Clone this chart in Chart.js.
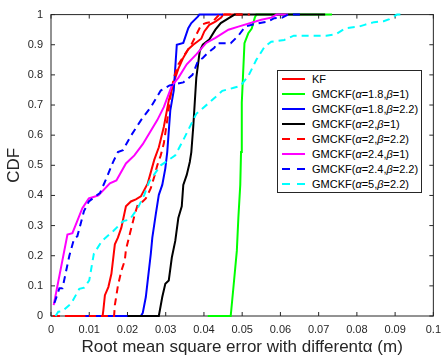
<!DOCTYPE html>
<html><head><meta charset="utf-8">
<script src="https://cdn.jsdelivr.net/npm/chart.js@4"></script>
<style>
html,body{margin:0;padding:0;background:#fff;}
#wrap{position:relative;width:448px;height:362px;}
#legend{position:absolute;left:277px;top:70px;width:143px;height:120px;border:1px solid #262626;background:#fff;font:11px "Liberation Sans",Arial,sans-serif;color:#000;padding-top:1px;}
.row{height:14.9px;display:flex;align-items:center;white-space:nowrap;}
.smp{width:23px;height:2px;margin-left:4px;margin-right:7px;flex:none;}
</style></head><body>
<div id="wrap"><canvas id="c" width="448" height="362"></canvas><div id="legend"></div></div>
<script>
// ---------- data ----------
const xTickLabels = ['0','0.01','0.02','0.03','0.04','0.05','0.06','0.07','0.08','0.09','0.1'];
const yTickLabels = ['0','0.1','0.2','0.3','0.4','0.5','0.6','0.7','0.8','0.9','1'];
const seriesLabels = ['KF','GMCKF(α=1.8,β=1)','GMCKF(α=1.8,β=2.2)','GMCKF(α=2,β=1)','GMCKF(α=2,β=2.2)','GMCKF(α=2.4,β=1)','GMCKF(α=2.4,β=2.2)','GMCKF(α=5,β=2.2)'];

const kfX = [0.005,0.0135,0.0137,0.0141,0.015,0.0158,0.0167,0.0175,0.0184,0.0196,0.0209,0.0222,0.0235,0.0253,0.027,0.0282,0.0295,0.0308,0.0325,0.0333,0.0346,0.0359,0.0372,0.0393,0.0401,0.0414,0.043,0.0445,0.045,0.05];
const kfY = [0,0,0.02,0.069,0.096,0.14,0.238,0.26,0.293,0.364,0.38,0.387,0.397,0.44,0.518,0.56,0.627,0.715,0.79,0.82,0.857,0.885,0.9,0.92,0.944,0.966,0.977,0.99,1,1];

const g18b1X = [0.041,0.047,0.0478,0.0486,0.049,0.0495,0.0497,0.0499,0.0506,0.0516,0.0525,0.0533,0.0537,0.0735];
const g18b1Y = [0,0,0.107,0.216,0.325,0.435,0.544,0.708,0.905,0.938,0.954,0.99,1,1];

const g18b22X = [0.009,0.0235,0.024,0.0248,0.0253,0.0261,0.0265,0.0274,0.0282,0.0291,0.0299,0.0304,0.0312,0.0321,0.0329,0.0346,0.0359,0.0367,0.0384,0.0388,0.045];
const g18b22Y = [0,0,0.01,0.063,0.118,0.206,0.26,0.337,0.402,0.435,0.49,0.544,0.682,0.748,0.9,0.906,0.955,0.972,0.993,1,1];

const g2b1X = [0.02,0.0282,0.0291,0.0299,0.0308,0.0316,0.0325,0.0333,0.0342,0.0346,0.0355,0.0363,0.0367,0.0372,0.038,0.0389,0.0397,0.0414,0.043,0.0444,0.0465,0.048,0.0717];
const g2b1Y = [0,0,0.063,0.107,0.118,0.194,0.249,0.325,0.364,0.435,0.468,0.511,0.544,0.627,0.79,0.879,0.9,0.917,0.95,0.972,0.988,1,1];

const g2b22X = [0.0005,0.0165,0.0167,0.0175,0.0184,0.0193,0.0196,0.0206,0.0219,0.0227,0.024,0.0248,0.0261,0.027,0.0278,0.0287,0.0295,0.0304,0.0312,0.0321,0.0333,0.035,0.0367,0.038,0.0393,0.0406,0.0423,0.044,0.052];
const g2b22Y = [0,0,0.036,0.1,0.15,0.184,0.22,0.271,0.337,0.37,0.38,0.39,0.424,0.462,0.5,0.533,0.572,0.65,0.725,0.79,0.835,0.868,0.9,0.933,0.966,0.972,0.977,1,1];

const g24b1X = [0.0007,0.0043,0.0056,0.0082,0.0099,0.0124,0.0154,0.0171,0.0196,0.0218,0.024,0.0278,0.0295,0.0316,0.0333,0.0355,0.038,0.0406,0.043,0.0464,0.049,0.055,0.0576,0.059,0.062];
const g24b1Y = [0.036,0.27,0.275,0.358,0.39,0.4,0.44,0.45,0.506,0.533,0.57,0.65,0.693,0.764,0.79,0.835,0.868,0.906,0.923,0.95,0.96,0.983,0.99,1,1];

const g24b22X = [0.0009,0.0022,0.003,0.0048,0.006,0.0069,0.0086,0.0099,0.0116,0.0128,0.0145,0.0162,0.0175,0.0188,0.021,0.0235,0.0261,0.0287,0.031,0.0346,0.037,0.0384,0.0397,0.041,0.0427,0.0435,0.047,0.049,0.0508,0.0536,0.0567,0.0584,0.0605,0.062,0.066];
const g24b22Y = [0.043,0.092,0.092,0.2,0.255,0.265,0.347,0.38,0.397,0.408,0.457,0.51,0.544,0.55,0.6,0.649,0.693,0.748,0.765,0.775,0.8,0.845,0.856,0.873,0.89,0.905,0.905,0.93,0.96,0.97,0.977,0.988,0.99,1,1];

const g5b22X = [0.0012,0.0019,0.003,0.0053,0.0074,0.0087,0.01,0.0112,0.0133,0.0163,0.0189,0.0206,0.0227,0.0244,0.0257,0.0287,0.0325,0.0346,0.038,0.0414,0.0448,0.0478,0.0495,0.0516,0.0537,0.0559,0.0576,0.061,0.0635,0.072,0.0745,0.077,0.0805,0.082,0.0845,0.087,0.0885,0.0905,0.092];
const g5b22Y = [0,0.014,0.016,0.042,0.09,0.094,0.118,0.206,0.249,0.282,0.315,0.32,0.358,0.402,0.446,0.5,0.533,0.584,0.671,0.708,0.747,0.757,0.763,0.796,0.85,0.894,0.91,0.916,0.93,0.93,0.935,0.955,0.96,0.966,0.975,0.978,0.985,1,1];

const seriesX = [kfX,g18b1X,g18b22X,g2b1X,g2b22X,g24b1X,g24b22X,g5b22X];
const seriesY = [kfY,g18b1Y,g18b22Y,g2b1Y,g2b22Y,g24b1Y,g24b22Y,g5b22Y];

// ---------- styles ----------
const colors = ['#ff0000','#00ff00','#0000ff','#000000','#ff0000','#ff00ff','#0000ff','#00ffff'];
const dashed = [false,false,false,false,true,false,true,true];
const FONT = '"Liberation Sans", Arial, sans-serif';

const datasets = seriesLabels.map((lab,i)=>({
  label: lab,
  data: seriesX[i].map((x,j)=>({x:x,y:seriesY[i][j]})),
  borderColor: colors[i],
  backgroundColor: colors[i],
  borderWidth: 2,
  borderDash: dashed[i] ? [7,5] : [],
  pointRadius: 0,
  fill: false,
  tension: 0,
  clip: 4,
  order: seriesLabels.length - i
}));

const frame = {
  id:'frame',
  beforeDatasetsDraw(chart){
    const {ctx, chartArea:a, scales:{x,y}} = chart;
    ctx.save();
    ctx.strokeStyle='#262626'; ctx.lineWidth=1;
    ctx.strokeRect(a.left, a.top, a.right-a.left, a.bottom-a.top);
    const L=4;
    ctx.beginPath();
    x.ticks.forEach(t=>{const p=x.getPixelForValue(t.value);
      ctx.moveTo(p,a.bottom); ctx.lineTo(p,a.bottom-L);
      ctx.moveTo(p,a.top); ctx.lineTo(p,a.top+L);});
    y.ticks.forEach(t=>{const p=y.getPixelForValue(t.value);
      ctx.moveTo(a.left,p); ctx.lineTo(a.left+L,p);
      ctx.moveTo(a.right,p); ctx.lineTo(a.right-L,p);});
    ctx.stroke();
    ctx.restore();
  }
};

new Chart(document.getElementById('c'), {
  type:'line',
  data:{datasets},
  options:{
    responsive:false, animation:false,
    layout:{padding:{left:0,right:5,top:11,bottom:0}},
    plugins:{legend:{display:false}, tooltip:{enabled:false}},
    scales:{
      x:{type:'linear', min:0, max:0.1,
        afterFit:s=>{s.height=46;},
        grid:{display:false, drawTicks:false}, border:{display:false},
        ticks:{stepSize:0.01, padding:7, color:'#262626', font:{family:FONT,size:11},
          maxRotation:0, autoSkip:false,
          callback:(v,i)=>xTickLabels[i]},
        title:{display:true, text:'Root mean square error with differentα (m)', color:'#262626',
          font:{family:FONT,size:17}, padding:{top:0,bottom:4}}
      },
      y:{type:'linear', min:0, max:1,
        afterFit:s=>{s.width=51;},
        grid:{display:false, drawTicks:false}, border:{display:false},
        ticks:{stepSize:0.1, padding:8, color:'#262626', font:{family:FONT,size:11},
          autoSkip:false, callback:(v,i)=>yTickLabels[i]},
        title:{display:true, text:'CDF', color:'#262626',
          font:{family:FONT,size:17}, padding:{top:4,bottom:0}}
      }
    }
  },
  plugins:[frame]
});

// HTML legend built from the series
const leg = document.getElementById('legend');
seriesLabels.forEach((lab,i)=>{
  const row = document.createElement('div'); row.className='row';
  const s = document.createElement('span'); s.className='smp';
  s.style.background = dashed[i]
    ? `linear-gradient(to right, ${colors[i]} 0 8px, transparent 8px 15px, ${colors[i]} 15px 23px)`
    : colors[i];
  const t = document.createElement('span');
  t.innerHTML = lab.replace(/α/g,'<i>α</i>').replace(/β/g,'<i>β</i>');
  row.appendChild(s); row.appendChild(t); leg.appendChild(row);
});
</script>
</body></html>
